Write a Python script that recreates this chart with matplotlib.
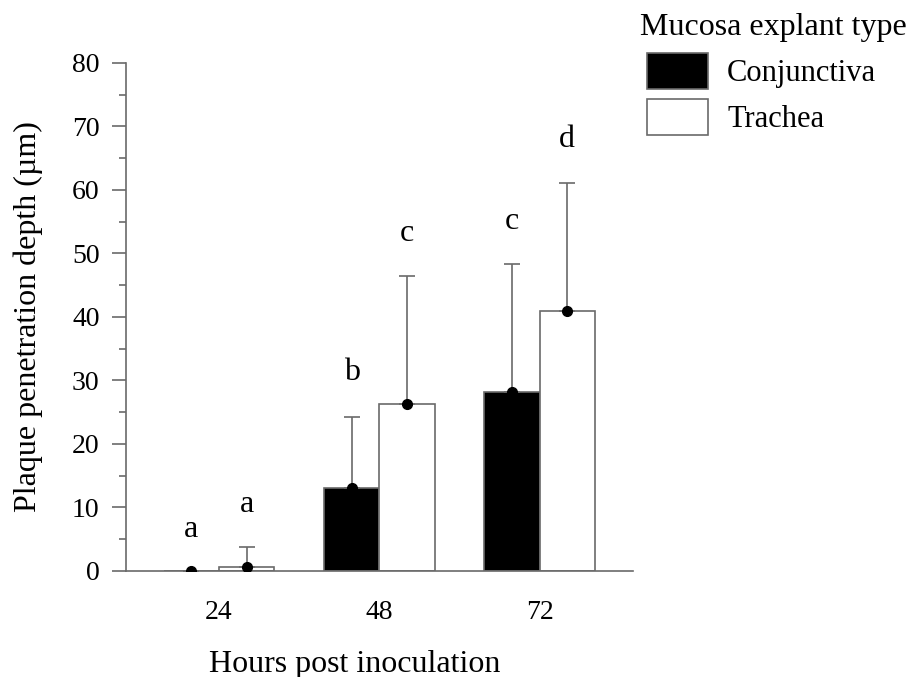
import matplotlib.pyplot as plt
import numpy as np
from matplotlib.ticker import MultipleLocator

plt.rcParams['font.family'] = ['Liberation Serif', 'DejaVu Serif']

hours = ['24', '48', '72']
conj_mean = [0.0, 13.0, 28.2]
conj_err = [0.0, 11.3, 20.1]
trach_mean = [0.6, 26.3, 41.0]
trach_err = [3.1, 20.2, 20.1]
conj_letters = ['a', 'b', 'c']
trach_letters = ['a', 'c', 'd']
conj_letter_y = [6.5, 31.2, 55.0]
trach_letter_y = [10.4, 53.2, 67.9]

grey = '#6a6a6a'
x = np.arange(len(hours))
w = 0.345

fig = plt.figure(figsize=(9.09, 6.77), dpi=100)
ax = fig.add_axes([0.1386, 0.1566, 0.5574, 0.7504])

ax.bar(x - w / 2, conj_mean, w, color='black', edgecolor=grey, linewidth=1.2,
       label='Conjunctiva', zorder=2)
ax.bar(x + w / 2, trach_mean, w, color='white', edgecolor=grey, linewidth=1.2,
       label='Trachea', zorder=2)

for xs, m, e in [(x - w / 2, conj_mean, conj_err), (x + w / 2, trach_mean, trach_err)]:
    ax.errorbar(xs, m, yerr=[np.zeros(len(e)), e], fmt='o', color='black',
                ecolor=grey, elinewidth=1.2, capsize=6, capthick=1.2,
                markersize=7, zorder=3)

for i in range(len(hours)):
    ax.text(x[i] - w / 2, conj_letter_y[i], conj_letters[i], ha='center',
            va='center', fontsize=23)
    ax.text(x[i] + w / 2, trach_letter_y[i], trach_letters[i], ha='center',
            va='center', fontsize=23)

ax.set_xlim(-0.58, 2.58)
ax.set_ylim(0, 80)
ax.set_xticks(x)
ax.set_xticklabels(hours)
ax.yaxis.set_major_locator(MultipleLocator(10))
ax.yaxis.set_minor_locator(MultipleLocator(5))
ax.tick_params(axis='y', which='major', length=10, width=1.2, color=grey,
               labelsize=20, pad=9)
ax.tick_params(axis='y', which='minor', length=5, width=1.2, color=grey)
ax.tick_params(axis='x', length=0, labelsize=20, pad=21)
for s in ['top', 'right']:
    ax.spines[s].set_visible(False)
for s in ['left', 'bottom']:
    ax.spines[s].set_color(grey)
    ax.spines[s].set_linewidth(1.2)

ax.set_xlabel('Hours post inoculation', fontsize=23, labelpad=12)
ax.xaxis.set_label_coords(0.452, -0.155)
ax.set_ylabel('Plaque penetration depth (µm)', fontsize=23, labelpad=21)

fig.text(640 / 909, 1 - 27 / 677, 'Mucosa explant type', fontsize=23,
         ha='left', va='center')
handles, labels = ax.get_legend_handles_labels()
fig.legend(handles, labels, loc='upper left',
           bbox_to_anchor=(647 / 909, 1 - 53 / 677),
           frameon=False, fontsize=22, borderpad=0, borderaxespad=0,
           handlelength=2.0, handleheight=1.43, handletextpad=0.62,
           labelspacing=0.33)

fig.savefig('out.png', dpi=100)
